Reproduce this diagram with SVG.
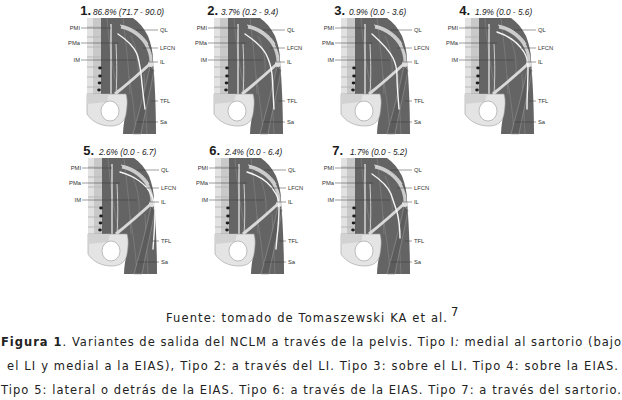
<svg xmlns="http://www.w3.org/2000/svg" xmlns:xlink="http://www.w3.org/1999/xlink" width="622" height="400" viewBox="0 0 622 400">
<style>
.num{font-family:"Liberation Sans",Arial,sans-serif;font-weight:bold;font-size:13px;fill:#1a1a1a}
.pct{font-family:"Liberation Sans",Arial,sans-serif;font-style:italic;font-size:8.3px;fill:#1a1a1a}
.lbl{font-family:"Liberation Sans",Arial,sans-serif;font-size:5.8px;fill:#333}
.ll{stroke:#3a3a3a;stroke-width:0.5;fill:none}
.lfcn{stroke:#f6f6f6;stroke-width:1.4;fill:none;stroke-linecap:round}
.cap{font-family:"DejaVu Sans",Verdana,sans-serif;font-size:11.5px;fill:#222}
</style>
<defs>
<g id="base">
  <rect x="-2" y="4" width="14" height="77" fill="#c9c9c9"/>
  <rect x="-2" y="4" width="6" height="77" fill="#e2e2e2"/>
  <path d="M-2,13H12M-2,23H12M-2,33H12M-2,43H12M-2,53H12M-2,63H12M-2,73H12" stroke="#b8b8b8" stroke-width="1.1"/>
  <path d="M12,4 L44,4 C50,8 55,14 59,22 C62,30 64,38 64,46 L65,60 C66,75 67,95 67,120 L34,120 C34,112 36,104 37,96 L37,81 L12,81 Z" fill="#646464"/>
  <path d="M18,4 C20,30 24,60 30,81 M34,4 C37,30 40,55 41,80 M42,22 C47,32 50,45 49,60 M40,62 C43,80 46,100 47,120 M55,60 C56,80 57,100 58,120" stroke="#7e7e7e" stroke-width="0.8" fill="none"/>
  <path d="M32,13 C44,15 54,24 58,32 C61,38 62,42 62,47" stroke="#cdcdcd" stroke-width="3.2" fill="none"/>
  <path d="M31,11 C44,13 55,22 59,30" stroke="#f0f0f0" stroke-width="0.8" fill="none"/>
  <path d="M22,10 C22,30 22,50 22,80" stroke="#f0f0f0" stroke-width="1.2" fill="none"/>
  <path d="M27,30 C28,50 28,65 27,80" stroke="#d8d8d8" stroke-width="0.9" fill="none"/>
  <path d="M61,52 C57,72 50,98 44,120 L52,120 C56,98 62,74 65,56 Z" fill="#5c5c5c" stroke="#999" stroke-width="0.6"/>
  <path d="M-2,80 L37,80 C39,86 38,94 37,100 C36,107 31,112 22,112 C12,112 3,108 -2,100 Z" fill="#e4e4e4" stroke="#9c9c9c" stroke-width="0.6"/>
  <path d="M-2,80 L20,80 L18,88 L-2,90 Z" fill="#d2d2d2"/>
  <ellipse cx="21" cy="97" rx="9" ry="10" fill="#fff" stroke="#999" stroke-width="0.6"/>
  <path d="M26,80 C36,72 50,60 62,49" stroke="#d8d8d8" stroke-width="3" fill="none"/>
  <circle cx="62" cy="50" r="3" fill="#dedede"/>
  <g fill="#1e1e1e">
    <ellipse cx="11" cy="54" rx="1.8" ry="1.4"/>
    <ellipse cx="11" cy="62" rx="1.8" ry="1.4"/>
    <ellipse cx="10.5" cy="69" rx="1.8" ry="1.4"/>
    <ellipse cx="10" cy="76" rx="1.8" ry="1.4"/>
  </g>
</g>
<g id="lines">
  <path class="ll" d="M-8,14H22M-8,29H30M-8,46H47M47,16H69M54,34H69M60,48H69M62,87H69M47,108H69"/>
</g>
</defs>

<g id="panel-1" transform="translate(89,14)">
  <use xlink:href="#base"/>
  <path class="lfcn" d="M29,20 C38,26 45,33 48,40 C50,46 51,52 52,60 C53,70 54,80 56,95"/>
  <use xlink:href="#lines"/>
  <text class="num" x="2" y="1" text-anchor="end">1.</text>
  <text class="pct" x="4" y="1">86.8% (71.7 - 90.0)</text>
  <text class="lbl" x="-9" y="16" text-anchor="end">PMI</text>
  <text class="lbl" x="-9" y="31" text-anchor="end">PMa</text>
  <text class="lbl" x="-9" y="48" text-anchor="end">IM</text>
  <text class="lbl" x="71" y="18">QL</text>
  <text class="lbl" x="71" y="36">LFCN</text>
  <text class="lbl" x="71" y="50">IL</text>
  <text class="lbl" x="71" y="89">TFL</text>
  <text class="lbl" x="71" y="110">Sa</text>
</g>

<g id="panel-2" transform="translate(216,14)">
  <use xlink:href="#base"/>
  <path class="lfcn" d="M29,20 C38,26 46,33 50,40 C53,46 55,52 56,60 C57,70 57,80 58,95"/>
  <use xlink:href="#lines"/>
  <text class="num" x="2" y="1" text-anchor="end">2.</text>
  <text class="pct" x="5" y="1">3.7% (0.2 - 9.4)</text>
  <text class="lbl" x="-9" y="16" text-anchor="end">PMI</text>
  <text class="lbl" x="-9" y="31" text-anchor="end">PMa</text>
  <text class="lbl" x="-9" y="48" text-anchor="end">IM</text>
  <text class="lbl" x="71" y="18">QL</text>
  <text class="lbl" x="71" y="36">LFCN</text>
  <text class="lbl" x="71" y="50">IL</text>
  <text class="lbl" x="71" y="89">TFL</text>
  <text class="lbl" x="71" y="110">Sa</text>
</g>

<g id="panel-3" transform="translate(343,14)">
  <use xlink:href="#base"/>
  <path class="lfcn" d="M29,20 C38,28 46,36 50,44 C53,50 54,56 54,62 C54,72 55,82 56,95"/>
  <use xlink:href="#lines"/>
  <text class="num" x="2" y="1" text-anchor="end">3.</text>
  <text class="pct" x="6" y="1">0.9% (0.0 - 3.6)</text>
  <text class="lbl" x="-9" y="16" text-anchor="end">PMI</text>
  <text class="lbl" x="-9" y="31" text-anchor="end">PMa</text>
  <text class="lbl" x="-9" y="48" text-anchor="end">IM</text>
  <text class="lbl" x="71" y="18">QL</text>
  <text class="lbl" x="71" y="36">LFCN</text>
  <text class="lbl" x="71" y="50">IL</text>
  <text class="lbl" x="71" y="89">TFL</text>
  <text class="lbl" x="71" y="110">Sa</text>
</g>

<g id="panel-4" transform="translate(467,14)">
  <use xlink:href="#base"/>
  <path class="lfcn" d="M30,18 C42,22 52,30 57,38 C60,43 61,48 61,54 C61,66 60,80 60,95"/>
  <use xlink:href="#lines"/>
  <text class="num" x="3" y="1" text-anchor="end">4.</text>
  <text class="pct" x="8" y="1">1.9% (0.0 - 5.6)</text>
  <text class="lbl" x="-9" y="16" text-anchor="end">PMI</text>
  <text class="lbl" x="-9" y="31" text-anchor="end">PMa</text>
  <text class="lbl" x="-9" y="48" text-anchor="end">IM</text>
  <text class="lbl" x="71" y="18">QL</text>
  <text class="lbl" x="71" y="36">LFCN</text>
  <text class="lbl" x="71" y="50">IL</text>
  <text class="lbl" x="71" y="89">TFL</text>
  <text class="lbl" x="71" y="110">Sa</text>
</g>

<g id="panel-5" transform="translate(90,154)">
  <use xlink:href="#base"/>
  <path class="lfcn" d="M30,18 C44,22 56,30 61,40 C64,46 65,52 65,58 C65,70 64,82 63,95"/>
  <use xlink:href="#lines"/>
  <text class="num" x="4" y="1" text-anchor="end">5.</text>
  <text class="pct" x="9" y="1">2.6% (0.0 - 6.7)</text>
  <text class="lbl" x="-9" y="16" text-anchor="end">PMI</text>
  <text class="lbl" x="-9" y="31" text-anchor="end">PMa</text>
  <text class="lbl" x="-9" y="48" text-anchor="end">IM</text>
  <text class="lbl" x="71" y="18">QL</text>
  <text class="lbl" x="71" y="36">LFCN</text>
  <text class="lbl" x="71" y="50">IL</text>
  <text class="lbl" x="71" y="89">TFL</text>
  <text class="lbl" x="71" y="110">Sa</text>
</g>

<g id="panel-6" transform="translate(217,154)">
  <use xlink:href="#base"/>
  <path class="lfcn" d="M30,18 C43,22 54,30 59,40 C62,45 62,50 62,55 C62,68 60,82 59,95"/>
  <use xlink:href="#lines"/>
  <text class="num" x="3" y="1" text-anchor="end">6.</text>
  <text class="pct" x="8" y="1">2.4% (0.0 - 6.4)</text>
  <text class="lbl" x="-9" y="16" text-anchor="end">PMI</text>
  <text class="lbl" x="-9" y="31" text-anchor="end">PMa</text>
  <text class="lbl" x="-9" y="48" text-anchor="end">IM</text>
  <text class="lbl" x="71" y="18">QL</text>
  <text class="lbl" x="71" y="36">LFCN</text>
  <text class="lbl" x="71" y="50">IL</text>
  <text class="lbl" x="71" y="89">TFL</text>
  <text class="lbl" x="71" y="110">Sa</text>
</g>

<g id="panel-7" transform="translate(343,154)">
  <use xlink:href="#base"/>
  <path class="lfcn" d="M29,20 C38,26 45,33 48,40 C50,46 52,52 54,58 C56,66 57,74 57,84"/>
  <use xlink:href="#lines"/>
  <text class="num" x="0" y="1" text-anchor="end">7.</text>
  <text class="pct" x="7" y="1">1.7% (0.0 - 5.2)</text>
  <text class="lbl" x="-9" y="16" text-anchor="end">PMI</text>
  <text class="lbl" x="-9" y="31" text-anchor="end">PMa</text>
  <text class="lbl" x="-9" y="48" text-anchor="end">IM</text>
  <text class="lbl" x="71" y="18">QL</text>
  <text class="lbl" x="71" y="36">LFCN</text>
  <text class="lbl" x="71" y="50">IL</text>
  <text class="lbl" x="71" y="89">TFL</text>
  <text class="lbl" x="71" y="110">Sa</text>
</g>

<g id="caption">
  <text class="cap" x="166" y="322" textLength="281" lengthAdjust="spacing">Fuente: tomado de Tomaszewski KA et al.</text>
  <text class="cap" x="451" y="316" font-size="8">7</text>
  <text class="cap" x="1" y="346" textLength="620" lengthAdjust="spacing"><tspan font-weight="bold">Figura 1</tspan>. Variantes de salida del NCLM a través de la pelvis. Tipo I<tspan font-style="italic">:</tspan> medial al sartorio (bajo</text>
  <text class="cap" x="7" y="370" textLength="611" lengthAdjust="spacing">el LI y medial a la EIAS), Tipo 2: a través del LI. Tipo 3: sobre el LI. Tipo 4: sobre la EIAS.</text>
  <text class="cap" x="1" y="394" textLength="620" lengthAdjust="spacing">Tipo 5: lateral o detrás de la EIAS. Tipo 6: a través de la EIAS. Tipo 7: a través del sartorio.</text>
</g>
</svg>
